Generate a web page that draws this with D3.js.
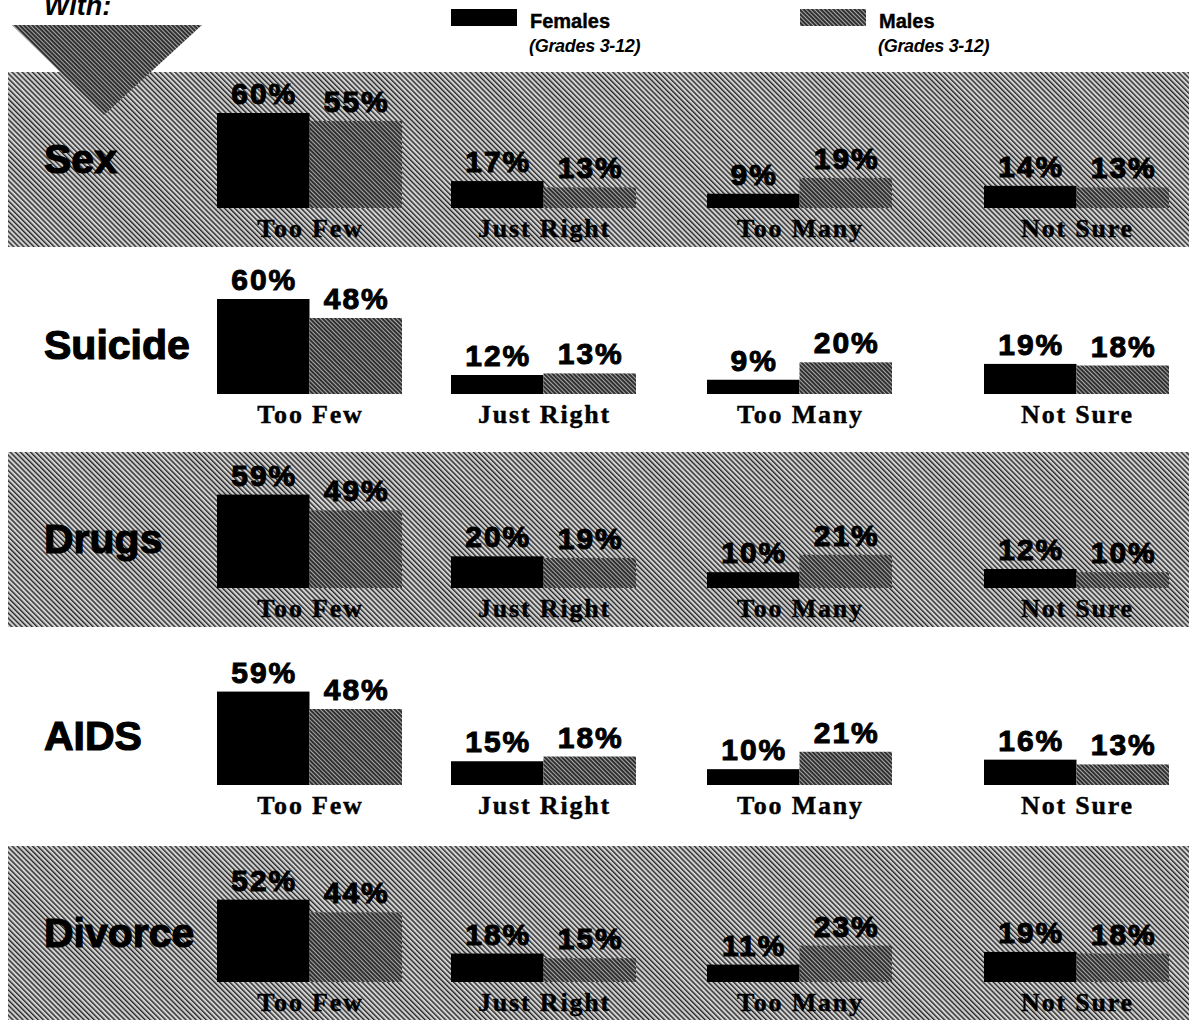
<!DOCTYPE html>
<html>
<head>
<meta charset="utf-8">
<script src="https://cdn.jsdelivr.net/npm/d3@7"></script>
<style>
  html, body { margin: 0; padding: 0; background: #fff; }
  svg.vis { display: block; width: 1189px; height: 1020px; }
</style>
</head>
<body>
<svg class="vis"></svg>
<script>

// values
const topics  = ['Sex', 'Suicide', 'Drugs', 'AIDS', 'Divorce'];
const answers = ['Too Few', 'Just Right', 'Too Many', 'Not Sure'];
const series  = ['Females', 'Males'];
const seriesNote = '(Grades 3-12)';

const females = [
    [60, 17,  9, 14],
    [60, 12,  9, 19],
    [59, 20, 10, 12],
    [59, 15, 10, 16],
    [52, 18, 11, 19]
];

const males = [
    [55, 13, 19, 13],
    [48, 13, 20, 18],
    [49, 19, 21, 10],
    [48, 18, 21, 13],
    [44, 15, 23, 18]
];

const v = {

    elems : {
        svg : 'svg.vis'
    },

    sizings : {
        w : 1189,
        h : 1020,
        bandH : 175,
        base : 136,      // bar baseline, from top of a row
        groupW : 185
    },

    fonts : {
        sans : 'Liberation Sans, Arial, sans-serif',
        serif : 'Liberation Serif, Times New Roman, serif'
    },

    scales : {

        row : () => d3.scaleOrdinal()
            .domain(topics)
            .range([72, 258, 452, 649, 846]),

        group : () => d3.scaleOrdinal()
            .domain(answers)
            .range([217, 451, 707, 984]),

        sub : () => d3.scaleBand()
            .domain(series)
            .range([0, v.sizings.groupW]),

        y : () => d3.scaleLinear()
            .domain([0, 60])
            .range([0, 95])

    },

    defs : (svg) => {

        const defs = svg.append('defs');

        // light diagonal screen for the shaded rows
        const band = defs.append('pattern')
            .attr('id', 'hatch-band')
            .attr('patternUnits', 'userSpaceOnUse')
            .attr('width', 3.6)
            .attr('height', 3.6)
            .attr('patternTransform', 'rotate(-45)');
        band.append('rect').attr('width', 3.6).attr('height', 3.6).attr('fill', '#d2d2d2');
        band.append('rect').attr('width', 1.4).attr('height', 3.6).attr('fill', '#262626');

        // dark screen for the male bars
        const dark = defs.append('pattern')
            .attr('id', 'hatch-dark')
            .attr('patternUnits', 'userSpaceOnUse')
            .attr('width', 3)
            .attr('height', 3)
            .attr('patternTransform', 'rotate(-45)');
        dark.append('rect').attr('width', 3).attr('height', 3).attr('fill', '#303030');
        dark.append('rect').attr('width', 1).attr('height', 3).attr('fill', '#a8a8a8');

    },

    render : () => {

        const svg = d3.select(v.elems.svg);
        const s = v.sizings;
        const f = v.fonts;

        v.defs(svg);

        const row = v.scales.row();
        const group = v.scales.group();
        const sub = v.scales.sub();
        const y = v.scales.y();

        const fill = d => d === 'Females' ? '#000' : 'url(#hatch-dark)';

        // shaded rows
        svg.append('g')
          .selectAll('rect.band')
          .data(topics.filter((d, i) => i % 2 === 0))
          .join('rect')
          .classed('band', true)
          .attr('x', 8)
          .attr('y', d => row(d))
          .attr('width', s.w - 8)
          .attr('height', s.bandH)
          .attr('fill', 'url(#hatch-band)');

        // header, cut by the top edge as in the scan
        svg.append('text')
          .attr('x', 44)
          .attr('y', 15)
          .attr('font-family', f.sans)
          .attr('font-weight', 'bold')
          .attr('font-style', 'italic')
          .attr('font-size', 27)
          .text('With:');

        svg.append('path')
          .attr('d', d3.line()([[12, 25], [202, 25], [104, 115]]) + 'Z')
          .attr('fill', 'url(#hatch-dark)');

        // legend
        const leg = svg.append('g')
          .selectAll('g.leg')
          .data(series)
          .join('g')
          .classed('leg', true)
          .attr('transform', (d, i) => `translate(${i === 0 ? 451 : 800},0)`);

        leg.append('rect')
          .attr('y', 9)
          .attr('width', 66)
          .attr('height', 17)
          .attr('fill', fill);

        leg.append('text')
          .attr('x', 79)
          .attr('y', 28)
          .attr('font-family', f.sans)
          .attr('font-weight', 'bold')
          .attr('font-size', 20)
          .attr('stroke', '#000')
          .attr('stroke-width', 0.4)
          .text(d => d);

        leg.append('text')
          .attr('x', 78)
          .attr('y', 52)
          .attr('font-family', f.sans)
          .attr('font-weight', 'bold')
          .attr('font-style', 'italic')
          .attr('font-size', 18)
          .attr('letter-spacing', -0.3)
          .text(seriesNote);

        // one block per topic
        const rows = svg.append('g')
          .selectAll('g.row')
          .data(topics.map((t, i) => ({ topic: t, f: females[i], m: males[i] })))
          .join('g')
          .classed('row', true)
          .attr('transform', d => `translate(0,${row(d.topic) + s.base})`);

        rows.append('text')
          .attr('x', 44)
          .attr('y', -35)
          .attr('font-family', f.sans)
          .attr('font-weight', 'bold')
          .attr('font-size', 41)
          .attr('stroke', '#000')
          .attr('stroke-width', 1.2)
          .text(d => d.topic);

        const groups = rows.selectAll('g.grp')
          .data(d => answers.map((a, j) => ({
              answer: a,
              vals: [{ s: 'Females', val: d.f[j] }, { s: 'Males', val: d.m[j] }]
          })))
          .join('g')
          .classed('grp', true)
          .attr('transform', d => `translate(${group(d.answer)},0)`);

        groups.selectAll('rect.bar')
          .data(d => d.vals)
          .join('rect')
          .classed('bar', true)
          .attr('x', d => sub(d.s))
          .attr('y', d => -y(d.val))
          .attr('width', sub.bandwidth())
          .attr('height', d => y(d.val))
          .attr('fill', d => fill(d.s));

        groups.selectAll('text.val')
          .data(d => d.vals)
          .join('text')
          .classed('val', true)
          .attr('x', d => sub(d.s) + sub.bandwidth() / 2 + 1)
          .attr('y', d => -y(d.val) - 9)
          .attr('text-anchor', 'middle')
          .attr('font-family', f.sans)
          .attr('font-weight', 'bold')
          .attr('font-size', 30)
          .attr('letter-spacing', 2)
          .attr('stroke', '#000')
          .attr('stroke-width', 1)
          .text(d => d.val + '%');

        groups.append('text')
          .attr('x', s.groupW / 2 + 1)
          .attr('y', 29)
          .attr('text-anchor', 'middle')
          .attr('font-family', f.serif)
          .attr('font-weight', 'bold')
          .attr('font-size', 26)
          .attr('letter-spacing', 1.8)
          .attr('stroke', '#000')
          .attr('stroke-width', 0.4)
          .text(d => d.answer);

    },

    ctrl : {
        init : () => {
            v.render();
        }
    }

};

v.ctrl.init();
</script>
</body>
</html>
